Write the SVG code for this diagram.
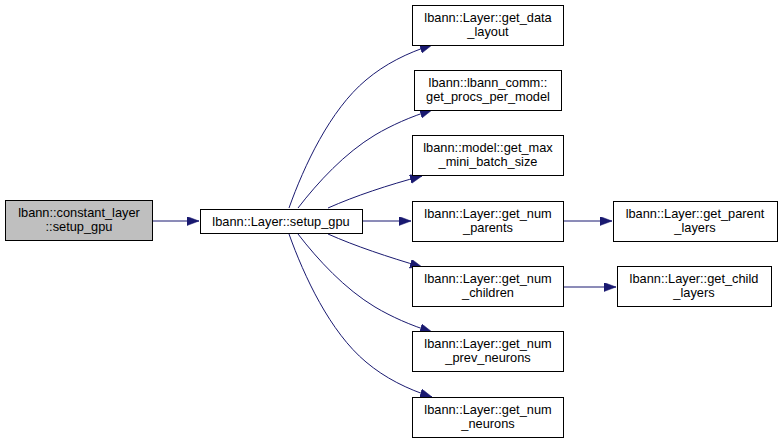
<svg xmlns="http://www.w3.org/2000/svg" width="781" height="443" viewBox="0 0 781 443">
<style>
.n rect{fill:#ffffff;stroke:#000000;stroke-width:1}
.n.g rect{fill:#bfbfbf}
.n text{font-family:"Liberation Sans",Arial,Helvetica,sans-serif;font-size:12.8px;fill:#000000;text-anchor:middle}
#edges path{fill:none;stroke:#191970;stroke-width:1}
</style>
<defs>
<marker id="ah" markerUnits="userSpaceOnUse" markerWidth="13" markerHeight="10" refX="12" refY="4.5" orient="auto">
<path d="M0,0 L12,4.5 L0,9 z" fill="#191970" stroke="#191970" stroke-width="0.5"/>
</marker>
</defs>
<rect width="781" height="443" fill="#ffffff"/>
<g id="edges">
<path d="M152,221 L199,221" marker-end="url(#ah)"/>
<path d="M362,221 L411,221" marker-end="url(#ah)"/>
<path d="M289,208 C304,166 330,110 366,80 C385,64 407,53 432,45" marker-end="url(#ah)"/>
<path d="M298,208 C318,182 345,153 375,135 C392,125 410,117 432,110" marker-end="url(#ah)"/>
<path d="M328,208 C355,196 388,185 422,176" marker-end="url(#ah)"/>
<path d="M328,234 C355,246 388,257 422,267" marker-end="url(#ah)"/>
<path d="M298,234 C318,260 345,289 375,307 C392,317 410,325 432,332" marker-end="url(#ah)"/>
<path d="M289,234 C304,276 330,332 366,362 C385,378 407,389 432,397" marker-end="url(#ah)"/>
<path d="M563,221 L612,221" marker-end="url(#ah)"/>
<path d="M563,287 L616,287" marker-end="url(#ah)"/>
</g>
<g id="node0" class="n g"><rect x="5.5" y="200.5" width="147" height="40"/><text x="79" y="217">lbann::constant_layer</text><text x="79" y="231">::setup_gpu</text></g>
<g id="node1" class="n"><rect x="200.5" y="209.5" width="162" height="24"/><text x="281" y="226">lbann::Layer::setup_gpu</text></g>
<g id="node2" class="n"><rect x="412.5" y="5.5" width="151" height="40"/><text x="488" y="22">lbann::Layer::get_data</text><text x="488" y="36">_layout</text></g>
<g id="node3" class="n"><rect x="414.5" y="70.5" width="147" height="40"/><text x="488" y="87">lbann::lbann_comm::</text><text x="488" y="101">get_procs_per_model</text></g>
<g id="node4" class="n"><rect x="412.5" y="135.5" width="151" height="40"/><text x="488" y="152">lbann::model::get_max</text><text x="488" y="166">_mini_batch_size</text></g>
<g id="node5" class="n"><rect x="412.5" y="201.5" width="151" height="40"/><text x="488" y="218">lbann::Layer::get_num</text><text x="488" y="232">_parents</text></g>
<g id="node6" class="n"><rect x="613.5" y="201.5" width="164" height="40"/><text x="695" y="218">lbann::Layer::get_parent</text><text x="695" y="232">_layers</text></g>
<g id="node7" class="n"><rect x="412.5" y="266.5" width="151" height="40"/><text x="488" y="283">lbann::Layer::get_num</text><text x="488" y="297">_children</text></g>
<g id="node8" class="n"><rect x="617.5" y="266.5" width="154" height="40"/><text x="694" y="283">lbann::Layer::get_child</text><text x="694" y="297">_layers</text></g>
<g id="node9" class="n"><rect x="412.5" y="331.5" width="151" height="40"/><text x="488" y="348">lbann::Layer::get_num</text><text x="488" y="362">_prev_neurons</text></g>
<g id="node10" class="n"><rect x="412.5" y="397.5" width="151" height="40"/><text x="488" y="414">lbann::Layer::get_num</text><text x="488" y="428">_neurons</text></g>
</svg>
